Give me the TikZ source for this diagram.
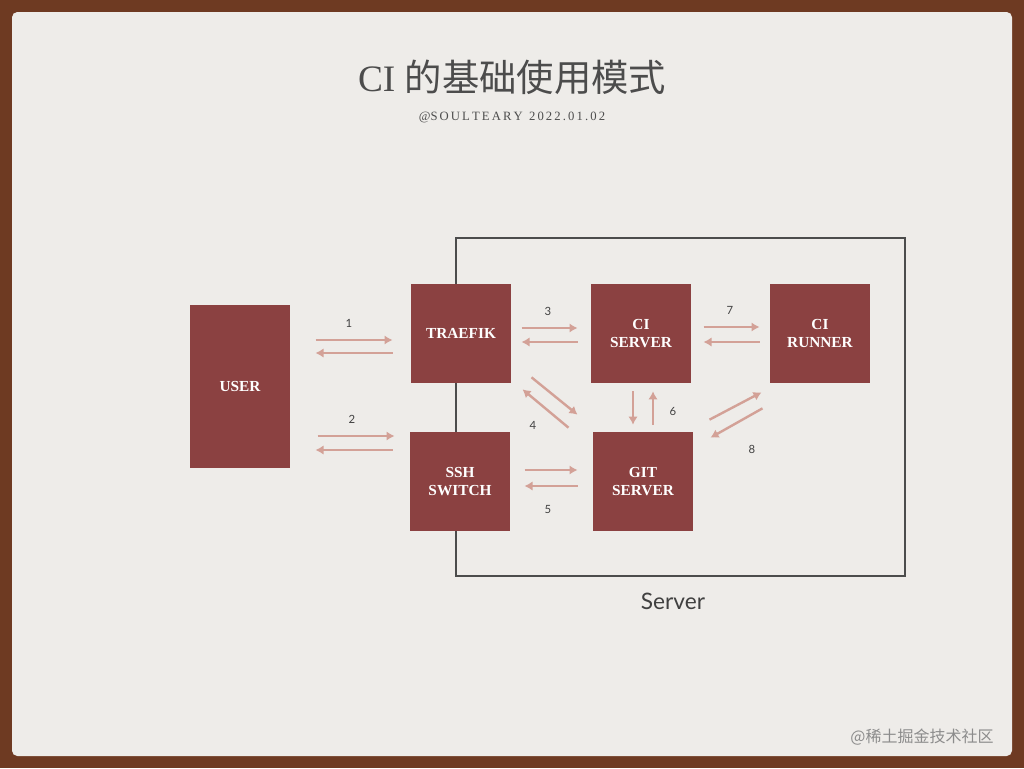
\documentclass[tikz,border=0pt]{standalone}
\usepackage{fontspec}
\setmainfont{Liberation Serif}
\newfontfamily\cjk{Noto Sans CJK SC}
\newfontfamily\sans{Lato}
\usetikzlibrary{calc}
\definecolor{boxred}{HTML}{8B4141}
\definecolor{arrowpink}{HTML}{D3A197}
\definecolor{paper}{HTML}{EEECE9}
\definecolor{frame}{HTML}{6E3A22}
\tikzset{every picture/.style={line width=0.75pt}}
\tikzset{
  block/.style={fill=boxred,text=white,minimum width=75pt,minimum height=74pt,inner sep=0pt,align=center,font=\bfseries\fontsize{11.5}{13.5}\selectfont},
  flow/.style={draw=arrowpink,line width=1.8pt,-{Latex[length=6pt,width=7pt]}},
  num/.style={font=\sans\fontsize{8.5}{10}\selectfont,text=black!75}
}
\usetikzlibrary{arrows.meta}
\begin{document}
\begin{tikzpicture}[x=0.75pt,y=0.75pt,yscale=-1,xscale=1]
  \useasboundingbox (0,0) rectangle (1024,768);
  \fill[frame] (0,0) rectangle (1024,768);
  \fill[paper,rounded corners=4pt] (12,12) rectangle (1012,756);

  % title
  \node[text=black!70,font=\fontsize{28}{32}\selectfont] (title) at (512,77) {CI {\cjk 的基础使用模式}};
  \node[text=black!70,font=\fontsize{9.5}{12}\selectfont] (sub) at (512,117) {@S\,O\,U\,L\,T\,E\,A\,R\,Y\ \ 2\,0\,2\,2\,.\,0\,1\,.\,0\,2};

  % server frame
  \draw[black!70,line width=2pt] (456,238) rectangle (905,576);
  \node[font=\sans\fontsize{17}{20}\selectfont,text=black!75] (srv) at (673,601) {Server};

  % blocks
  \node[block,minimum height=122pt] (user) at (240,386.5) {USER};
  \node[block] (traefik) at (461,333.5) {TRAEFIK};
  \node[block] (ssh) at (460,481.5) {SSH\\SWITCH};
  \node[block] (ciserver) at (641,333.5) {CI\\SERVER};
  \node[block] (git) at (643,481.5) {GIT\\SERVER};
  \node[block] (runner) at (820,333.5) {CI\\RUNNER};

  % user <-> traefik
  \draw[flow] ($(user.east)+(25,-46.5)$) -- ($(traefik.west)+(-18,6.5)$);
  \draw[flow] ($(traefik.west)+(-18,19.5)$) -- ($(user.east)+(25,-33.5)$);
  \node[num] (n1) at (349,323) {1};
  % user <-> ssh
  \draw[flow] ($(user.east)+(27,49.5)$) -- ($(ssh.west)+(-15,-45.5)$);
  \draw[flow] ($(ssh.west)+(-17,-31.5)$) -- ($(user.east)+(25,63.5)$);
  \node[num] (n2) at (352,419) {2};
  % traefik <-> ci server
  \draw[flow] ($(traefik.east)+(10,-5.5)$) -- ($(ciserver.west)+(-13,-5.5)$);
  \draw[flow] ($(ciserver.west)+(-13,8.5)$) -- ($(traefik.east)+(10,8.5)$);
  \node[num] (n3) at (548,311) {3};
  % ci server <-> runner
  \draw[flow] ($(ciserver.east)+(12,-6.5)$) -- ($(runner.west)+(-10,-6.5)$);
  \draw[flow] ($(runner.west)+(-10,8.5)$) -- ($(ciserver.east)+(12,8.5)$);
  \node[num] (n7) at (730,310) {7};
  % traefik <-> git (diagonal)
  \draw[flow] ($(traefik.south east)+(20,-6)$) -- ($(git.north west)+(-15,-17)$);
  \draw[flow] ($(git.north west)+(-24,-4)$) -- ($(traefik.south east)+(11,6)$);
  \node[num] (n4) at (533,425) {4};
  % ssh <-> git
  \draw[flow] ($(ssh.east)+(14,-11.5)$) -- ($(git.west)+(-15,-11.5)$);
  \draw[flow] ($(git.west)+(-15,4.5)$) -- ($(ssh.east)+(14,4.5)$);
  \node[num] (n5) at (548,509) {5};
  % ci server <-> git
  \draw[flow] ($(ciserver.south)+(-8,8)$) -- ($(git.north)+(-10,-7)$);
  \draw[flow] ($(git.north)+(10,-7)$) -- ($(ciserver.south)+(12,8)$);
  \node[num] (n6) at (673,411) {6};
  % git <-> runner
  \draw[flow] ($(git.north east)+(16,-12)$) -- ($(runner.south west)+(-8,9)$);
  \draw[flow] ($(runner.south west)+(-7,25)$) -- ($(git.north east)+(17,6)$);
  \node[num] (n8) at (752,449) {8};

  % watermark
  \node[text=black!45,font=\cjk\fontsize{12}{14}\selectfont] (wm) at (922,737) {@稀土掘金技术社区};
\end{tikzpicture}
\end{document}
